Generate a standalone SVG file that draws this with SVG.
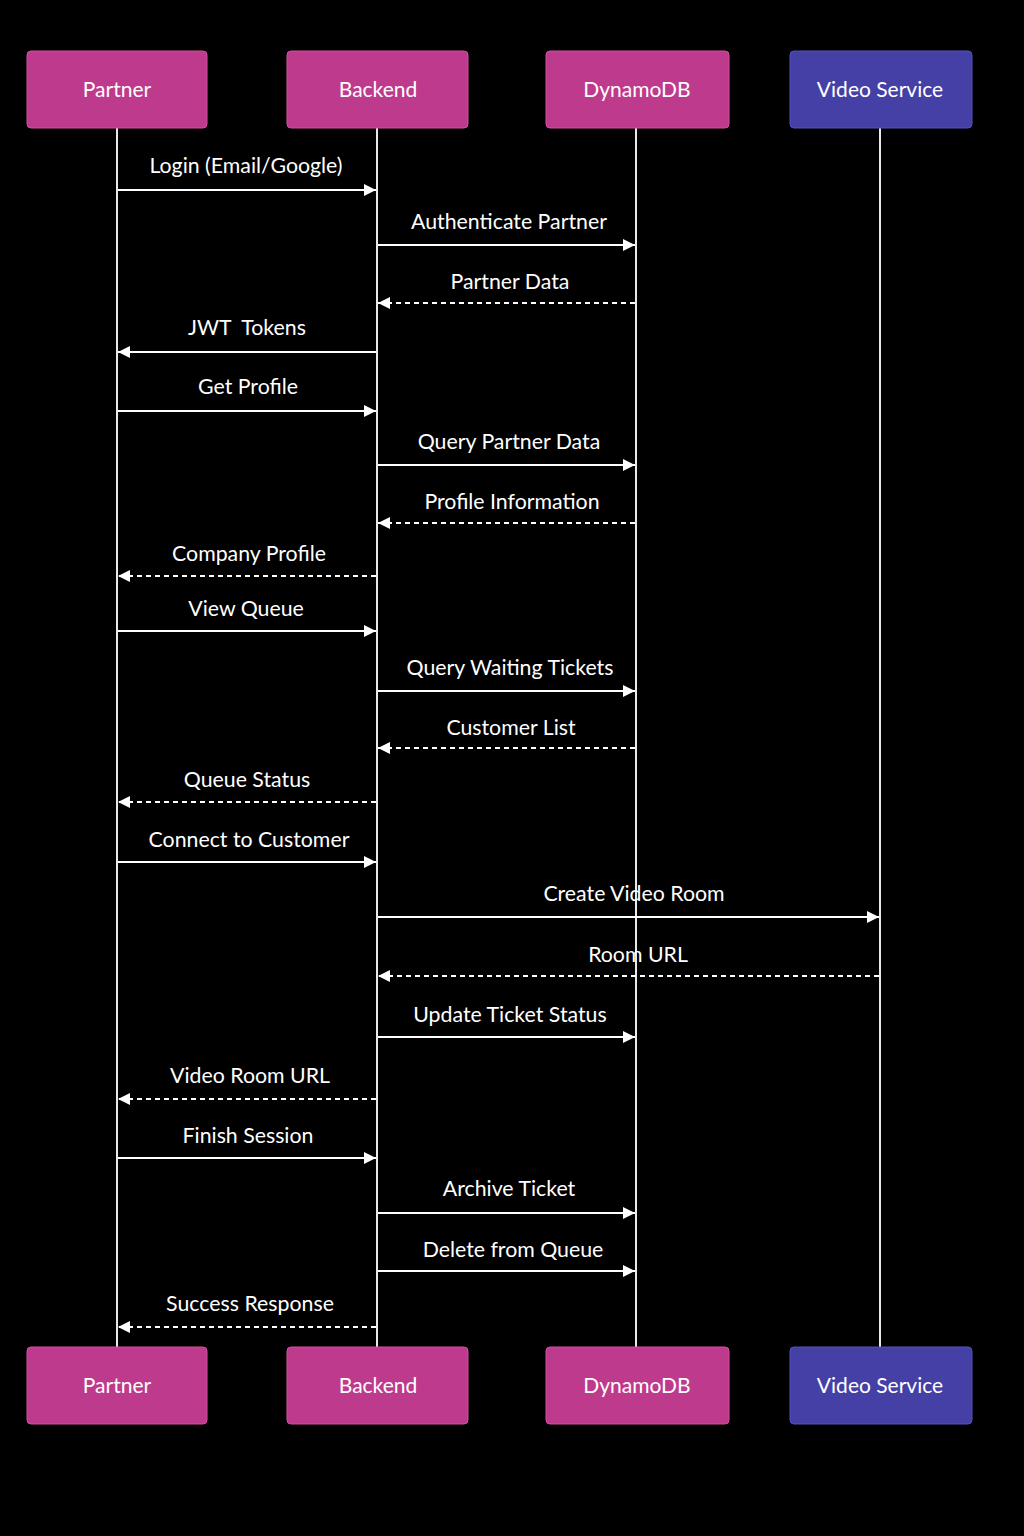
<svg xmlns="http://www.w3.org/2000/svg" width="1024" height="1536" viewBox="0 0 1024 1536">
<style>
.box{fill:#BE3A8C;stroke:#D54FA0;stroke-width:1}
.vbox{fill:#4540A6;stroke:#5550C0;stroke-width:1}
.hdr{font-family:Lato,"Open Sans",sans-serif;font-size:21px;fill:#ffffff;text-anchor:middle}
.lbl{font-family:Lato,"Open Sans",sans-serif;font-size:21.3px;fill:#ffffff;text-anchor:middle}
.life{stroke:#e8e8e8;stroke-width:2}
.msg{stroke:#ffffff;stroke-width:2;fill:none}
.ret{stroke:#ffffff;stroke-width:2;fill:none;stroke-dasharray:5,4}
</style>
<defs>
<marker id="ah" markerUnits="userSpaceOnUse" markerWidth="14" markerHeight="14" viewBox="0 0 14 14" refX="13" refY="7" orient="auto">
<path d="M1,1 L13,7 L1,13 Z" fill="#ffffff"/>
</marker>
</defs>
<rect width="1024" height="1536" fill="#000000"/>
<g id="lifelines">
<line class="life" x1="117" y1="128" x2="117" y2="1347"/>
<line class="life" x1="377" y1="128" x2="377" y2="1347"/>
<line class="life" x1="636" y1="128" x2="636" y2="1347"/>
<line class="life" x1="880" y1="128" x2="880" y2="1347"/>
</g>
<g id="partner-top"><rect class="box" x="27" y="51" width="180" height="77" rx="4"/><text class="hdr" x="117" y="97">Partner</text></g>
<g id="backend-top"><rect class="box" x="287" y="51" width="181" height="77" rx="4"/><text class="hdr" x="378" y="97">Backend</text></g>
<g id="dynamodb-top"><rect class="box" x="546" y="51" width="183" height="77" rx="4"/><text class="hdr" x="637" y="97">DynamoDB</text></g>
<g id="video-top"><rect class="vbox" x="790" y="51" width="182" height="77" rx="4"/><text class="hdr" x="880" y="97">Video Service</text></g>
<g id="partner-bottom"><rect class="box" x="27" y="1347" width="180" height="77" rx="4"/><text class="hdr" x="117" y="1393">Partner</text></g>
<g id="backend-bottom"><rect class="box" x="287" y="1347" width="181" height="77" rx="4"/><text class="hdr" x="378" y="1393">Backend</text></g>
<g id="dynamodb-bottom"><rect class="box" x="546" y="1347" width="183" height="77" rx="4"/><text class="hdr" x="637" y="1393">DynamoDB</text></g>
<g id="video-bottom"><rect class="vbox" x="790" y="1347" width="182" height="77" rx="4"/><text class="hdr" x="880" y="1393">Video Service</text></g>
<g id="connectors">
<line class="msg" x1="118" y1="190" x2="376" y2="190" marker-end="url(#ah)"/>
<line class="msg" x1="378" y1="245" x2="635" y2="245" marker-end="url(#ah)"/>
<line class="ret" x1="635" y1="303" x2="378" y2="303" marker-end="url(#ah)"/>
<line class="msg" x1="376" y1="352" x2="118" y2="352" marker-end="url(#ah)"/>
<line class="msg" x1="118" y1="411" x2="376" y2="411" marker-end="url(#ah)"/>
<line class="msg" x1="378" y1="465" x2="635" y2="465" marker-end="url(#ah)"/>
<line class="ret" x1="635" y1="523" x2="378" y2="523" marker-end="url(#ah)"/>
<line class="ret" x1="376" y1="576" x2="118" y2="576" marker-end="url(#ah)"/>
<line class="msg" x1="118" y1="631" x2="376" y2="631" marker-end="url(#ah)"/>
<line class="msg" x1="378" y1="691" x2="635" y2="691" marker-end="url(#ah)"/>
<line class="ret" x1="635" y1="748" x2="378" y2="748" marker-end="url(#ah)"/>
<line class="ret" x1="376" y1="802" x2="118" y2="802" marker-end="url(#ah)"/>
<line class="msg" x1="118" y1="862" x2="376" y2="862" marker-end="url(#ah)"/>
<line class="msg" x1="378" y1="917" x2="879" y2="917" marker-end="url(#ah)"/>
<line class="ret" x1="879" y1="976" x2="378" y2="976" marker-end="url(#ah)"/>
<line class="msg" x1="378" y1="1037" x2="635" y2="1037" marker-end="url(#ah)"/>
<line class="ret" x1="376" y1="1099" x2="118" y2="1099" marker-end="url(#ah)"/>
<line class="msg" x1="118" y1="1158" x2="376" y2="1158" marker-end="url(#ah)"/>
<line class="msg" x1="378" y1="1213" x2="635" y2="1213" marker-end="url(#ah)"/>
<line class="msg" x1="378" y1="1271" x2="635" y2="1271" marker-end="url(#ah)"/>
<line class="ret" x1="376" y1="1327" x2="118" y2="1327" marker-end="url(#ah)"/>
</g>
<g id="labels">
<text class="lbl" x="246" y="173">Login (Email/Google)</text>
<text class="lbl" x="509" y="229">Authenticate Partner</text>
<text class="lbl" x="510" y="289">Partner Data</text>
<text class="lbl" x="247" y="335" xml:space="preserve">JWT  Tokens</text>
<text class="lbl" x="248" y="394">Get Profile</text>
<text class="lbl" x="509" y="449">Query Partner Data</text>
<text class="lbl" x="512" y="509">Profile Information</text>
<text class="lbl" x="249" y="561">Company Profile</text>
<text class="lbl" x="246" y="616">View Queue</text>
<text class="lbl" x="510" y="675">Query Waiting Tickets</text>
<text class="lbl" x="511" y="735">Customer List</text>
<text class="lbl" x="247" y="787">Queue Status</text>
<text class="lbl" x="249" y="847">Connect to Customer</text>
<text class="lbl" x="634" y="901">Create Video Room</text>
<text class="lbl" x="638" y="962">Room URL</text>
<text class="lbl" x="510" y="1022">Update Ticket Status</text>
<text class="lbl" x="250" y="1083">Video Room URL</text>
<text class="lbl" x="248" y="1143">Finish Session</text>
<text class="lbl" x="509" y="1196">Archive Ticket</text>
<text class="lbl" x="513" y="1257">Delete from Queue</text>
<text class="lbl" x="250" y="1311">Success Response</text>
</g>
</svg>
